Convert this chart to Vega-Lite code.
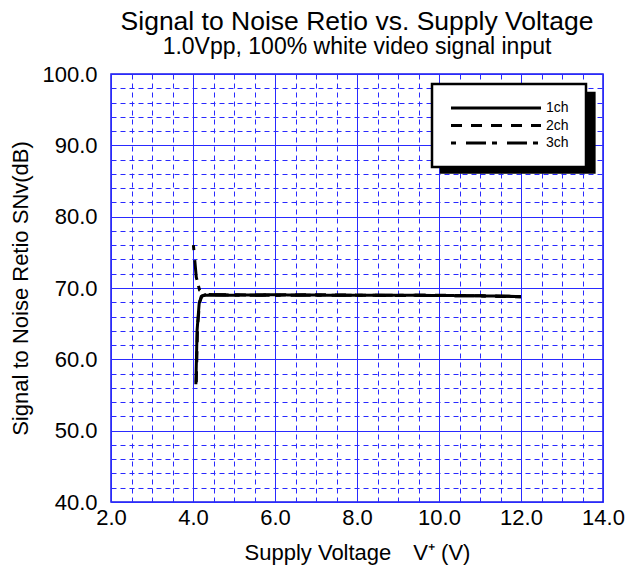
{
  "$schema": "https://vega.github.io/schema/vega-lite/v6.json",
  "autosize": "none",
  "width": 492,
  "height": 428,
  "padding": {"left": 111, "top": 74, "right": 23, "bottom": 77},
  "background": "white",
  "config": {
    "font": "Liberation Sans",
    "view": {"stroke": "#1a1ae6", "strokeWidth": 1.5},
    "title": {"fontSize": 26.5, "fontWeight": "normal", "color": "black", "subtitleFontSize": 23, "subtitleColor": "black", "subtitlePadding": 1, "offset": 4, "anchor": "middle"}
  },
  "title": {"text": "Signal to Noise Retio vs. Supply Voltage", "subtitle": "1.0Vpp, 100% white video signal input"},
  "datasets": {
    "snr": [
      {"v": 4.07, "snr": 56.5, "ch": "1ch"},
      {"v": 4.1, "snr": 64.1, "ch": "1ch"},
      {"v": 4.15, "snr": 67.8, "ch": "1ch"},
      {"v": 4.2, "snr": 68.8, "ch": "1ch"},
      {"v": 4.3, "snr": 69.0, "ch": "1ch"},
      {"v": 5.0, "snr": 69.0, "ch": "1ch"},
      {"v": 6.0, "snr": 69.05, "ch": "1ch"},
      {"v": 7.0, "snr": 69.0, "ch": "1ch"},
      {"v": 8.0, "snr": 69.0, "ch": "1ch"},
      {"v": 9.0, "snr": 69.0, "ch": "1ch"},
      {"v": 10.0, "snr": 68.95, "ch": "1ch"},
      {"v": 11.0, "snr": 68.9, "ch": "1ch"},
      {"v": 12.0, "snr": 68.8, "ch": "1ch"},
      {"v": 4.08, "snr": 56.8, "ch": "2ch"},
      {"v": 4.11, "snr": 64.5, "ch": "2ch"},
      {"v": 4.16, "snr": 68.0, "ch": "2ch"},
      {"v": 4.22, "snr": 68.9, "ch": "2ch"},
      {"v": 4.3, "snr": 69.05, "ch": "2ch"},
      {"v": 5.0, "snr": 69.05, "ch": "2ch"},
      {"v": 6.0, "snr": 69.0, "ch": "2ch"},
      {"v": 7.0, "snr": 69.05, "ch": "2ch"},
      {"v": 8.0, "snr": 69.0, "ch": "2ch"},
      {"v": 9.0, "snr": 68.95, "ch": "2ch"},
      {"v": 10.0, "snr": 69.0, "ch": "2ch"},
      {"v": 11.0, "snr": 68.9, "ch": "2ch"},
      {"v": 12.0, "snr": 68.75, "ch": "2ch"},
      {"v": 4.01, "snr": 76.0, "ch": "3ch"},
      {"v": 4.08, "snr": 71.5, "ch": "3ch"},
      {"v": 4.16, "snr": 69.7, "ch": "3ch"},
      {"v": 4.3, "snr": 69.1, "ch": "3ch"},
      {"v": 5.0, "snr": 69.0, "ch": "3ch"},
      {"v": 6.0, "snr": 69.0, "ch": "3ch"},
      {"v": 7.0, "snr": 69.0, "ch": "3ch"},
      {"v": 8.0, "snr": 69.0, "ch": "3ch"},
      {"v": 9.0, "snr": 69.0, "ch": "3ch"},
      {"v": 10.0, "snr": 68.95, "ch": "3ch"},
      {"v": 11.0, "snr": 68.9, "ch": "3ch"},
      {"v": 12.0, "snr": 68.8, "ch": "3ch"}
    ],
    "shadow": [{"x1": 10.02, "x2": 13.82, "y1": 97.5, "y2": 86.0}]
  },
  "layer": [
    {
      "data": {"name": "shadow"},
      "mark": {"type": "rect", "color": "black"},
      "encoding": {
        "x": {"field": "x1", "type": "quantitative", "scale": {"domain": [2, 14], "nice": false, "zero": false},
          "axis": {
            "values": [2,2.5,3,3.5,4,4.5,5,5.5,6,6.5,7,7.5,8,8.5,9,9.5,10,10.5,11,11.5,12,12.5,13,13.5,14],
            "tickCount": 100,
            "labelExpr": "datum.value % 2 === 0 ? format(datum.value, '.1f') : ''",
            "labelFontSize": 22, "labelColor": "black", "labelPadding": 5, "labelFlush": false, "labelOverlap": false,
            "ticks": false, "domain": false,
            "grid": true, "gridColor": "#2a2aff", "gridOpacity": 1,
            "gridDash": {"expr": "datum.value % 2 === 0 ? [] : [5, 4]"},
            "gridWidth": 1,
            "title": "Supply Voltage\u2003V⁺ (V)", "titleFontSize": 22, "titleFontWeight": "normal", "titleColor": "black", "titlePadding": 14
          }},
        "x2": {"field": "x2"},
        "y": {"field": "y1", "type": "quantitative", "scale": {"domain": [40, 100], "nice": false, "zero": false},
          "axis": {
            "values": [40,42,44,46,48,50,52,54,56,58,60,62,64,66,68,70,72,74,76,78,80,82,84,86,88,90,92,94,96,98,100],
            "tickCount": 100,
            "labelExpr": "datum.value % 10 === 0 ? format(datum.value, '.1f') : ''",
            "labelFontSize": 22, "labelColor": "black", "labelPadding": 14, "labelFlush": false, "labelOverlap": false,
            "ticks": false, "domain": false,
            "grid": true, "gridColor": "#2a2aff", "gridOpacity": 1,
            "gridDash": {"expr": "datum.value % 10 === 0 ? [] : [5, 4]"},
            "gridWidth": 1,
            "title": "Signal to Noise Retio SNv(dB)", "titleFontSize": 22, "titleFontWeight": "normal", "titleColor": "black", "titlePadding": 9
          }},
        "y2": {"field": "y2"}
      }
    },
    {
      "data": {"name": "snr"},
      "mark": {"type": "line", "color": "black", "strokeWidth": 3},
      "encoding": {
        "x": {"field": "v", "type": "quantitative"},
        "y": {"field": "snr", "type": "quantitative"},
        "strokeDash": {"field": "ch", "type": "nominal",
          "scale": {"domain": ["1ch", "2ch", "3ch"], "range": [[1, 0], [11, 9], [5, 10, 20, 6]]},
          "legend": {"title": null, "orient": "none", "legendX": 321, "legendY": 10,
            "symbolType": "M-1,0L17,0", "symbolSize": 100, "symbolStrokeWidth": 3, "symbolStrokeColor": "black",
            "labelFontSize": 14, "labelColor": "black", "labelOffset": 83, "rowPadding": 3.5,
            "fillColor": "white", "strokeColor": "black", "padding": 17, "cornerRadius": 0,
            "encode": {"legend": {"update": {"strokeWidth": {"value": 2.5}}}}}
        }
      }
    }
  ]
}
